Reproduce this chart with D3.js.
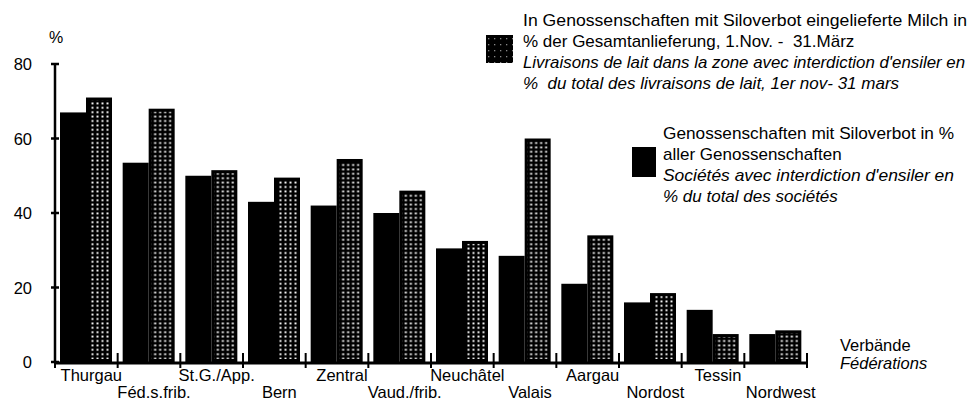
<!DOCTYPE html>
<html>
<head>
<meta charset="utf-8">
<script src="https://cdn.jsdelivr.net/npm/d3@7"></script>
<style>
  body { margin: 0; background: #fff; }
  svg { display: block; }
  text { font-family: "Liberation Sans", Arial, Helvetica, sans-serif; fill: #000; }
</style>
</head>
<body>
<svg width="977" height="403"></svg>
<script>
// Verbände / Fédérations
var categories = [
  "Thurgau", "Féd.s.frib.", "St.G./App.", "Bern", "Zentral", "Vaud./frib.",
  "Neuchâtel", "Valais", "Aargau", "Nordost", "Tessin", "Nordwest"
];
// Genossenschaften mit Siloverbot in % aller Genossenschaften (black)
var societies = [67, 53.5, 50, 43, 42, 40, 30.5, 28.5, 21, 16, 14, 7.5];
// eingelieferte Milch in % der Gesamtanlieferung (dotted)
var milk = [71, 68, 51.5, 49.5, 54.5, 46, 32.5, 60, 34, 18.5, 7.5, 8.5];
var yTicks = [0, 20, 40, 60, 80];
var series = ["societies", "milk"];

// w: width to fit into (only for the long lines)
var legendMilk = [
  { t: "In Genossenschaften mit Siloverbot eingelieferte Milch in", i: false, w: 444 },
  { t: "% der Gesamtanlieferung, 1.Nov. -  31.März", i: false, w: 0 },
  { t: "Livraisons de lait dans la zone avec interdiction d'ensiler en", i: true, w: 442 },
  { t: "%  du total des livraisons de lait, 1er nov- 31 mars", i: true, w: 0 }
];
var legendSoc = [
  { t: "Genossenschaften mit Siloverbot in %", i: false, w: 291 },
  { t: "aller Genossenschaften", i: false, w: 0 },
  { t: "Sociétés avec interdiction d'ensiler en", i: true, w: 291 },
  { t: "% du total des sociétés", i: true, w: 0 }
];

var svg = d3.select("svg");

var x = d3.scaleBand().domain(categories).range([55, 807]).padding(0);
var xs = d3.scaleBand().domain(series).range([5, 57]).padding(0);
var y = d3.scaleLinear().domain([0, 80]).range([362, 64]);

var rows = categories.map(function (c, i) {
  return { cat: c, i: i, societies: societies[i], milk: milk[i] };
});

// dotted pattern for the milk bars
var defs = svg.append("defs");
var pat = defs.append("pattern")
  .attr("id", "dots")
  .attr("patternUnits", "userSpaceOnUse")
  .attr("width", 5)
  .attr("height", 4.4);
pat.append("rect").attr("width", 5).attr("height", 4.4).attr("fill", "#000");
pat.append("rect").attr("x", 1.5).attr("y", 1.3).attr("width", 2).attr("height", 1.8).attr("fill", "#fff");

var pat2 = defs.append("pattern")
  .attr("id", "dotsLegend")
  .attr("patternUnits", "userSpaceOnUse")
  .attr("width", 6)
  .attr("height", 6);
pat2.append("rect").attr("width", 6).attr("height", 6).attr("fill", "#000");
pat2.append("rect").attr("x", 2).attr("y", 2).attr("width", 1.3).attr("height", 1.3).attr("fill", "#888");

var groups = svg.append("g")
  .selectAll("g")
  .data(rows)
  .enter()
  .append("g")
  .attr("transform", function (d) { return "translate(" + x(d.cat) + ",0)"; });

groups.append("rect")
  .attr("x", xs("societies"))
  .attr("width", xs.bandwidth())
  .attr("y", function (d) { return y(d.societies); })
  .attr("height", function (d) { return y(0) - y(d.societies); })
  .attr("fill", "#000");

groups.append("rect")
  .attr("x", xs("milk"))
  .attr("width", xs.bandwidth())
  .attr("y", function (d) { return y(d.milk); })
  .attr("height", function (d) { return y(0) - y(d.milk); })
  .attr("fill", "#000");

groups.append("rect")
  .attr("x", xs("milk") + 3)
  .attr("width", xs.bandwidth() - 6)
  .attr("y", function (d) { return y(d.milk) + 3; })
  .attr("height", function (d) { return Math.max(0, y(0) - y(d.milk) - 6); })
  .attr("fill", "url(#dots)");

// y axis
svg.append("line")
  .attr("x1", 55).attr("x2", 55)
  .attr("y1", y(80)).attr("y2", y(0))
  .attr("stroke", "#000").attr("stroke-width", 2.5);

svg.append("g")
  .selectAll("line")
  .data(yTicks)
  .enter()
  .append("line")
  .attr("x1", 51).attr("x2", 59)
  .attr("y1", function (d) { return y(d); })
  .attr("y2", function (d) { return y(d); })
  .attr("stroke", "#000").attr("stroke-width", 2.5);

svg.append("g")
  .selectAll("text")
  .data(yTicks)
  .enter()
  .append("text")
  .attr("x", 32)
  .attr("y", function (d) { return y(d) + 6; })
  .attr("text-anchor", "end")
  .style("font-size", "16.5px")
  .text(function (d) { return d; });

svg.append("text")
  .attr("x", 56).attr("y", 43)
  .attr("text-anchor", "middle")
  .style("font-size", "16px")
  .text("%");

// x axis
svg.append("line")
  .attr("x1", 55).attr("x2", 807)
  .attr("y1", 363).attr("y2", 363)
  .attr("stroke", "#000").attr("stroke-width", 3);

var bounds = categories.map(function (c) { return x(c); }).concat([x.range()[1]]);
svg.append("g")
  .selectAll("line")
  .data(bounds)
  .enter()
  .append("line")
  .attr("x1", function (d) { return d; })
  .attr("x2", function (d) { return d; })
  .attr("y1", 353).attr("y2", 368)
  .attr("stroke", "#000").attr("stroke-width", 2);

svg.append("g")
  .selectAll("text")
  .data(rows)
  .enter()
  .append("text")
  .attr("x", function (d) { return x(d.cat) + x.bandwidth() / 2 + 5; })
  .attr("y", function (d) { return d.i % 2 == 0 ? 381 : 398; })
  .attr("text-anchor", "middle")
  .style("font-size", "16.5px")
  .text(function (d) { return d.cat; });

svg.append("text").attr("x", 840).attr("y", 351).style("font-size", "16.5px").text("Verbände");
svg.append("text").attr("x", 840).attr("y", 369).style("font-size", "16.5px")
  .style("font-style", "italic").text("Fédérations");

// legends
function legendLines(data, x0, y0) {
  var t = svg.append("g")
    .selectAll("text")
    .data(data)
    .enter()
    .append("text")
    .attr("x", x0)
    .attr("y", function (d, i) { return y0 + i * 21; })
    .style("font-size", "17px")
    .style("white-space", "pre")
    .style("font-style", function (d) { return d.i ? "italic" : "normal"; })
    .text(function (d) { return d.t; });
  t.filter(function (d) { return d.w > 0; })
    .attr("textLength", function (d) { return d.w; })
    .attr("lengthAdjust", "spacingAndGlyphs");
}

svg.append("rect")
  .attr("x", 486).attr("y", 35).attr("width", 27).attr("height", 28)
  .attr("fill", "url(#dotsLegend)");
legendLines(legendMilk, 523, 26);

svg.append("rect")
  .attr("x", 632).attr("y", 147).attr("width", 24).attr("height", 30)
  .attr("fill", "#000");
legendLines(legendSoc, 663, 139);
</script>
</body>
</html>
